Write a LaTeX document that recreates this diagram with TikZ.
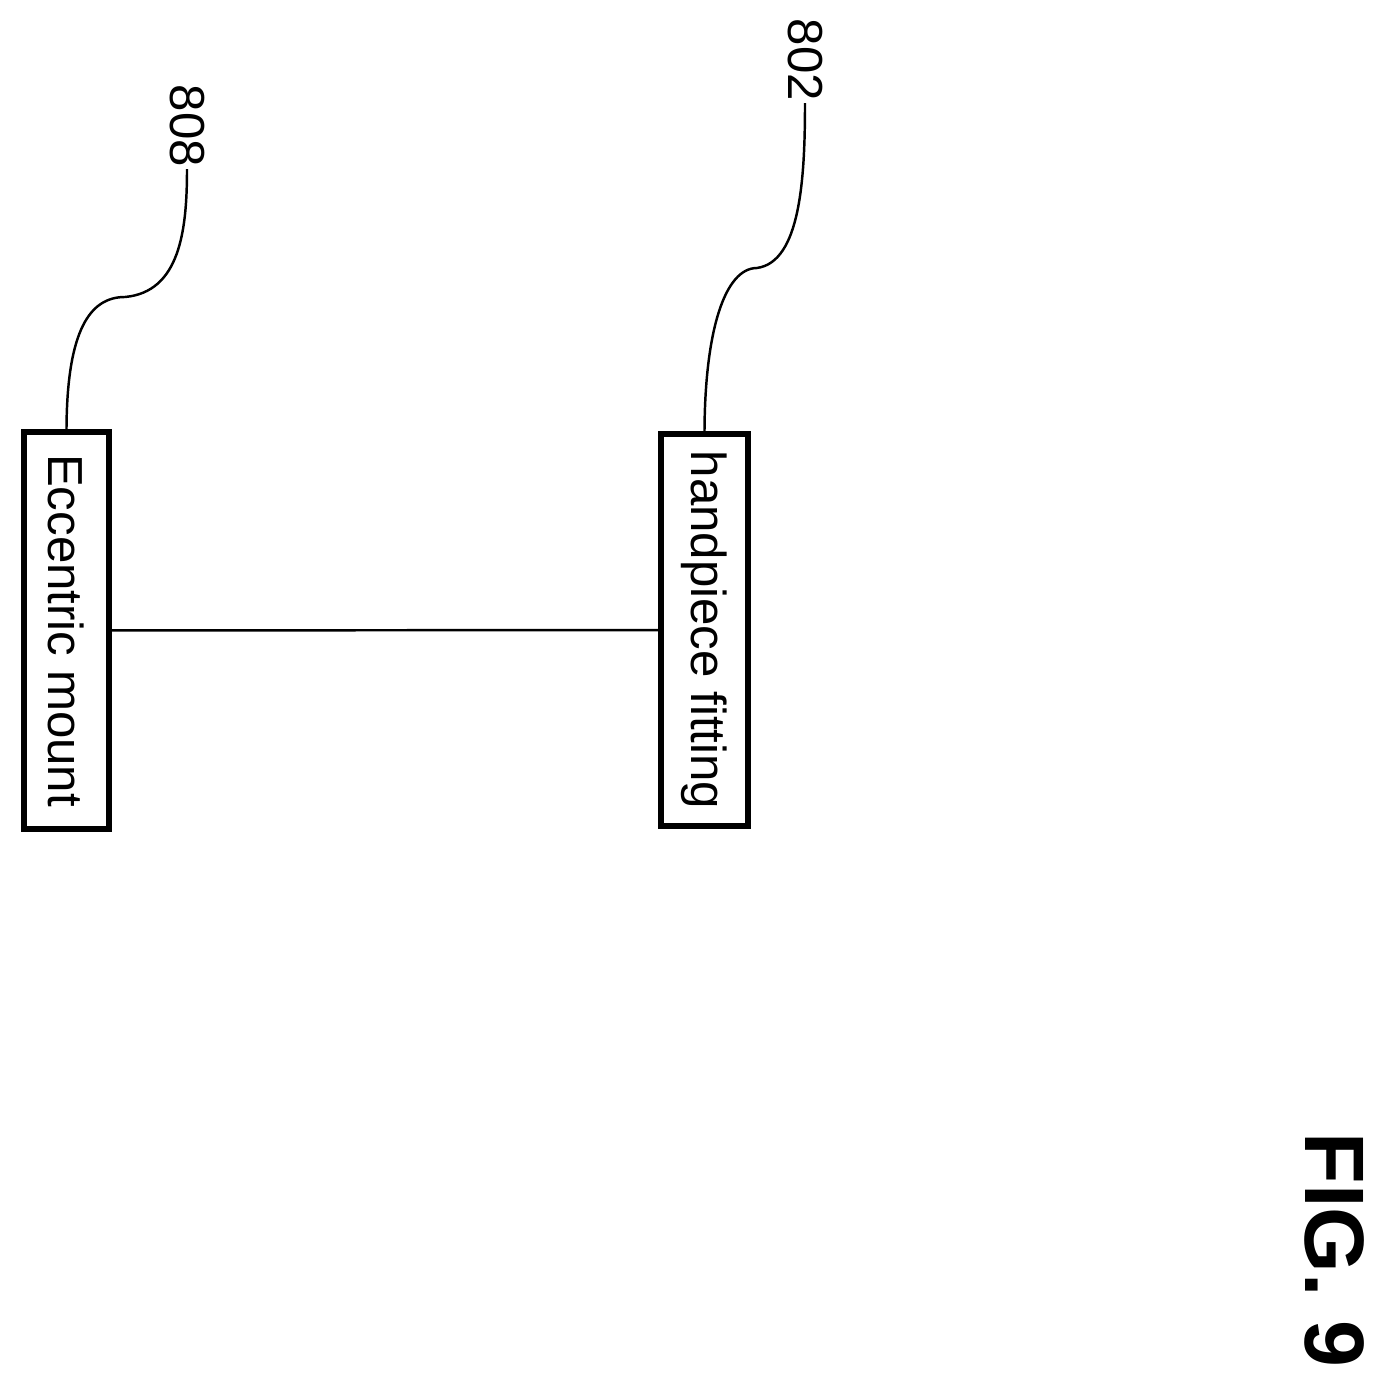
\documentclass[tikz,border=0pt]{standalone}
\usepackage{fontspec}
\setmainfont{Liberation Sans}
\usetikzlibrary{positioning}

\begin{document}
\begin{tikzpicture}[x=0.02cm,y=-0.02cm,
  block/.style={draw,line width=3.6pt,rotate=-90,inner sep=0pt,font=\fontsize{28}{32}\selectfont},
  ref/.style={rotate=-90,inner sep=1pt,font=\fontsize{28}{32}\selectfont},
  lead/.style={line width=1.4pt}]
  \useasboundingbox (0,0) rectangle (1387,1381);

  \node[block,minimum width=7.94cm,minimum height=1.7cm] (mount) at (66.5,630.5) {Eccentric mount};
  \node[block,minimum width=7.84cm,minimum height=1.74cm] (fitting) at (704.5,630) {handpiece fitting};

  \node[ref] (n808) at (187,126) {808};
  \node[ref] (n802) at (805,60) {802};
  \node[rotate=-90,inner sep=0pt,font=\fontsize{48}{54}\selectfont\bfseries] (fig) at (1335,1250) {FIG. 9};

  \draw[lead] (mount) -- (fitting);
  \draw[lead] (mount.west) .. controls (67,330) and (90,297) .. (125,297)
    .. controls (180,292) and (187,230) .. (n808.east);
  \draw[lead] (fitting.west) .. controls (705,330) and (725,268) .. (757,268)
    .. controls (800,262) and (805,180) .. (n802.east);
\end{tikzpicture}
\end{document}
